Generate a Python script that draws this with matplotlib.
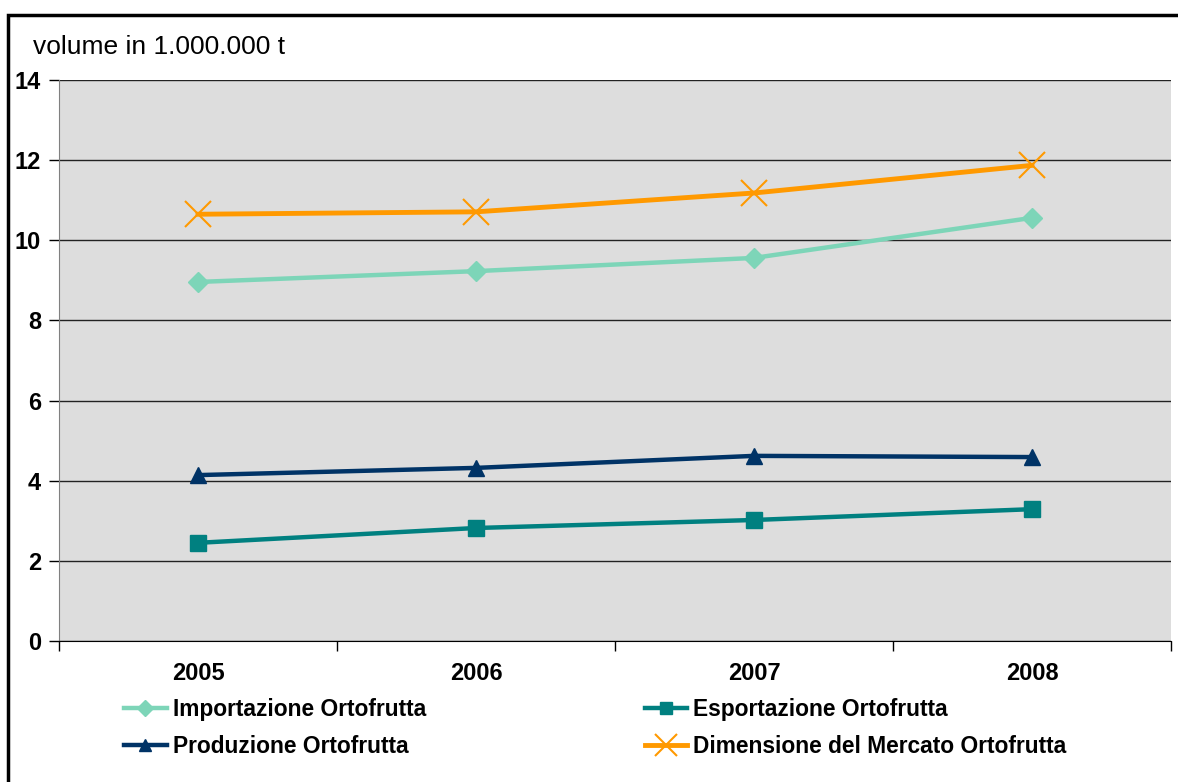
import matplotlib
matplotlib.use("Agg")
import matplotlib.pyplot as plt
from matplotlib.patches import Rectangle
from matplotlib.ticker import FixedLocator

plt.rcParams['font.family'] = ['Liberation Sans', 'DejaVu Sans']

anni = ['2005', '2006', '2007', '2008']
importazione = [8.96, 9.23, 9.56, 10.56]
esportazione = [2.45, 2.82, 3.02, 3.29]
produzione = [4.14, 4.32, 4.62, 4.59]
dimensione = [10.65, 10.71, 11.18, 11.87]

fig = plt.figure(figsize=[11.78, 7.82], dpi=100)
W, H = 1178.0, 782.0
ax = fig.add_axes([59/W, (H-641)/H, 1112/W, 561/H])
ax.set_facecolor('#dddddd')

x = list(range(len(anni)))
l1, = ax.plot(x, importazione, color='#7dd5b8', lw=3.2, marker='D', ms=10,
              label='Importazione Ortofrutta', zorder=3)
l2, = ax.plot(x, esportazione, color='#008080', lw=3.2, marker='s', ms=11,
              label='Esportazione Ortofrutta', zorder=3)
l3, = ax.plot(x, produzione, color='#003366', lw=3.2, marker='^', ms=11,
              label='Produzione Ortofrutta', zorder=3)
l4, = ax.plot(x, dimensione, color='#ff9900', lw=3.5, marker='x', ms=19, mew=1.5,
              label='Dimensione del Mercato Ortofrutta', zorder=3)

ax.set_xlim(-0.5, 3.5)
ax.set_ylim(0, 14)
ax.set_yticks(range(0, 15, 2))
ax.yaxis.grid(True, color='#222222', lw=1)
ax.set_axisbelow(True)
ax.set_xticks(x)
ax.set_xticklabels(anni)
ax.xaxis.set_minor_locator(FixedLocator([-0.5, 0.5, 1.5, 2.5, 3.5]))
ax.tick_params(axis='x', which='major', length=0, pad=15)
ax.tick_params(axis='x', which='minor', length=7, width=1, direction='out')
ax.tick_params(axis='y', length=7, width=1, direction='out', pad=6)
for lab in ax.get_xticklabels() + ax.get_yticklabels():
    lab.set_fontsize(17)
    lab.set_fontweight('bold')

for s in ['top', 'right']:
    ax.spines[s].set_visible(False)
ax.spines['left'].set_color('#808080')
ax.spines['bottom'].set_color('black')

fig.text(33/W, 1 - 47/H, 'volume in 1.000.000 t', fontsize=19, va='center')

# ordine per colonne: riga 1 = Importazione, Esportazione
leg = fig.legend([l1, l3, l2, l4],
                 [l1.get_label(), l3.get_label(), l2.get_label(), l4.get_label()],
                 loc='upper left', bbox_to_anchor=(113/W, 1 - 687/H), ncol=2,
                 frameon=False, prop={'size': 16.4, 'weight': 'bold'},
                 handlelength=1.85, handletextpad=0.28, columnspacing=9.6,
                 labelspacing=0.58, borderpad=0, markerscale=0.8)

fig.patches.append(Rectangle((8/W, -0.1), 1.2, (1 - 15/H) + 0.1,
                             transform=fig.transFigure, fill=False,
                             edgecolor='black', lw=2.5))

plt.savefig("out.png", dpi=100)
